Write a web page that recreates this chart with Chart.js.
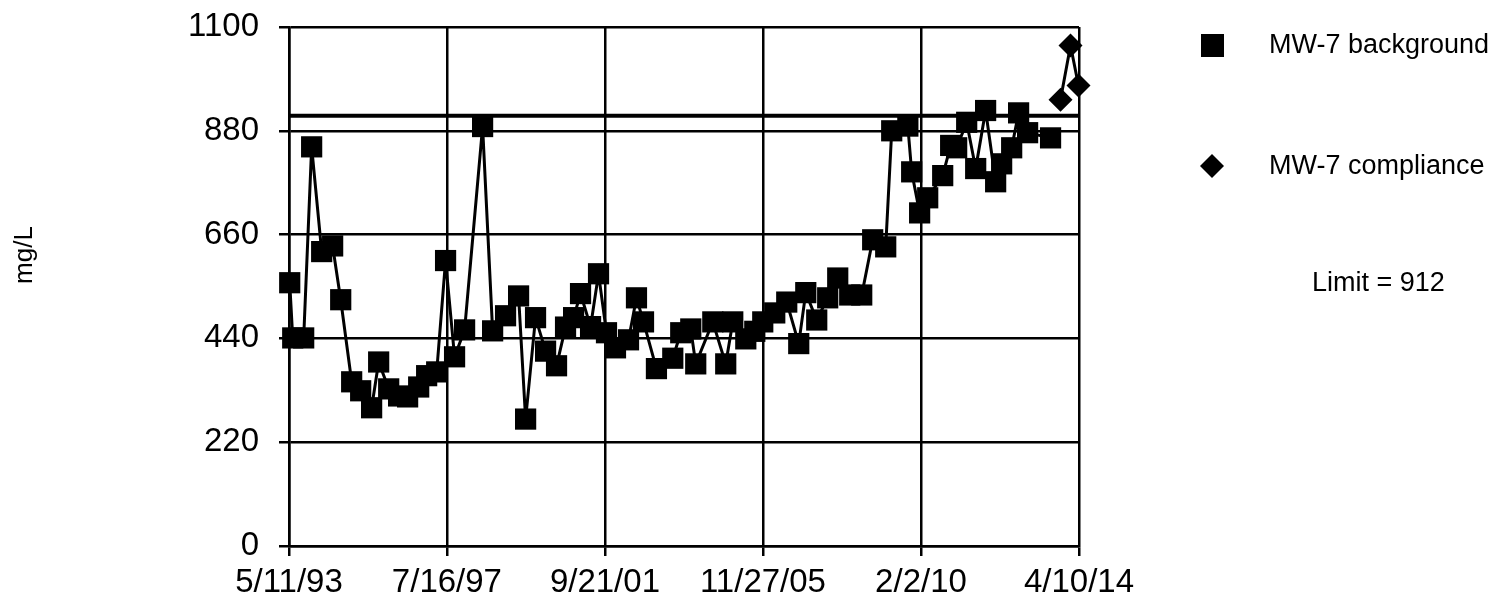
<!DOCTYPE html>
<html>
<head>
<meta charset="utf-8">
<script src="https://cdn.jsdelivr.net/npm/chart.js@4.4.1/dist/chart.umd.min.js"></script>
<style>
  html, body { margin:0; padding:0; background:#fff; }
  #wrap { width:1490px; height:600px; position:relative; }
</style>
</head>
<body>
<div id="wrap"><canvas id="chart"></canvas></div>
<script>
/* ---------- data ---------- */
const tickLabels = ["5/11/93","7/16/97","9/21/01","11/27/05","2/2/10","4/10/14"];
const yTicks = [0,220,440,660,880,1100];
const limitValue = 912;

const bgDates = ["1993-05-18","1993-06-16","1993-09-30","1993-12-16","1994-03-23","1994-07-07","1994-09-23",
  "1995-01-07","1995-04-04","1995-07-19","1995-09-25","1995-12-31","1996-04-05","1996-07-01","1996-10-16",
  "1997-01-01","1997-04-08","1997-07-03","1997-09-28","1998-01-03","1998-06-26","1998-10-01","1999-02-03",
  "1999-06-09","1999-08-16","1999-11-20","2000-02-25","2000-06-10","2000-09-05","2000-11-22","2001-01-28",
  "2001-05-05","2001-07-21","2001-10-06","2002-01-01","2002-05-07","2002-07-23","2002-09-29","2003-02-01",
  "2003-07-09","2003-09-24","2003-12-30","2004-02-16","2004-07-30","2004-12-02","2005-02-08","2005-06-14",
  "2005-09-09","2005-11-25","2006-03-21","2006-07-15","2006-11-08","2007-01-15","2007-05-01","2007-08-15",
  "2007-11-20","2008-03-15","2008-07-09","2008-10-23","2009-02-26","2009-04-25","2009-09-28","2009-11-04",
  "2010-01-20","2010-04-08","2010-08-31","2010-11-16","2011-01-13","2011-04-20","2011-07-16","2011-10-20",
  "2012-01-25","2012-03-23","2012-06-28","2012-09-03","2012-11-29","2013-07-09"];
const bgValues = [558,441,441,846,624,636,522,348,329,293,390,333,318,316,337,361,369,605,401,458,
  889,456,488,530,269,484,413,382,464,484,535,465,577,452,420,437,526,475,376,398,
  452,460,386,475,386,475,439,455,475,494,517,429,537,479,526,568,532,532,649,634,
  880,890,793,706,738,785,849,844,898,800,923,772,810,844,918,876,865];

const compDates = ["2013-10-13","2014-01-18","2014-04-05"];
const compValues = [946,1061,976];

/* ---------- helpers ---------- */
function parseTick(s){
  const [m,d,y] = s.split("/").map(Number);
  return Date.UTC(y < 50 ? 2000 + y : 1900 + y, m - 1, d);
}
const tickValues = tickLabels.map(parseTick);
const xMin = tickValues[0], xMax = tickValues[tickValues.length - 1];
const toPoints = (dates, vals) => dates.map((d,i) => ({ x: Date.parse(d), y: vals[i] }));

/* legend + y title drawn in the margins */
const sideText = {
  id: "sideText",
  afterDraw(chart){
    const ctx = chart.ctx;
    ctx.save();
    ctx.fillStyle = "#000";
    ctx.fillRect(1201, 34, 23, 23);
    ctx.beginPath();
    ctx.moveTo(1212, 154); ctx.lineTo(1224, 166); ctx.lineTo(1212, 178); ctx.lineTo(1200, 166);
    ctx.closePath(); ctx.fill();
    ctx.font = "27px 'Liberation Sans', Arial, sans-serif";
    ctx.textBaseline = "middle";
    ctx.textAlign = "left";
    ctx.fillText("MW-7 background", 1269, 46);
    ctx.fillText("MW-7 compliance", 1269, 167);
    ctx.fillText("Limit = 912", 1312, 284);
    ctx.translate(25, 255);
    ctx.rotate(-Math.PI / 2);
    ctx.textAlign = "center";
    ctx.font = "26px 'Liberation Sans', Arial, sans-serif";
    ctx.fillText("mg/L", 0, 0);
    ctx.restore();
  }
};

const axisFont = { family: "'Liberation Sans', Arial, sans-serif", size: 33 };

new Chart(document.getElementById("chart"), {
  type: "line",
  data: {
    datasets: [
      { label: "MW-7 background", data: toPoints(bgDates, bgValues),
        borderColor: "#000", borderWidth: 3, pointStyle: "rect", pointRadius: 15,
        pointBackgroundColor: "#000", pointBorderWidth: 0, clip: false },
      { label: "MW-7 compliance", data: toPoints(compDates, compValues),
        borderColor: "#000", borderWidth: 3, pointStyle: "rectRot", pointRadius: 12,
        pointBackgroundColor: "#000", pointBorderWidth: 0, clip: false },
      { label: "Limit", data: [{ x: xMin, y: limitValue }, { x: xMax, y: limitValue }],
        borderColor: "#000", borderWidth: 4, pointRadius: 0 }
    ]
  },
  options: {
    responsive: true,
    maintainAspectRatio: false,
    animation: false,
    events: [],
    layout: { padding: { top: 27, right: 411, left: 0, bottom: 0 } },
    plugins: { legend: { display: false }, tooltip: { enabled: false } },
    scales: {
      x: {
        type: "linear", min: xMin, max: xMax,
        afterBuildTicks: s => { s.ticks = tickValues.map(v => ({ value: v })); },
        afterFit: s => { s.height = 54; s.paddingLeft = 0; s.paddingRight = 0; },
        ticks: { font: axisFont, color: "#000", padding: 7, maxRotation: 0, autoSkip: false,
          callback: v => tickLabels[tickValues.indexOf(v)] },
        grid: { color: "#000", lineWidth: 2.5, tickLength: 10 },
        border: { color: "#000", width: 2.5 }
      },
      y: {
        min: 0, max: 1100,
        afterBuildTicks: s => { s.ticks = yTicks.map(v => ({ value: v })); },
        afterFit: s => { s.width = 289; s.paddingTop = 0; s.paddingBottom = 0; },
        ticks: { font: axisFont, color: "#000", padding: 20, callback: v => String(v) },
        grid: { color: "#000", lineWidth: 2.5, tickLength: 10 },
        border: { color: "#000", width: 2.5 }
      }
    }
  },
  plugins: [sideText]
});
</script>
</body>
</html>
